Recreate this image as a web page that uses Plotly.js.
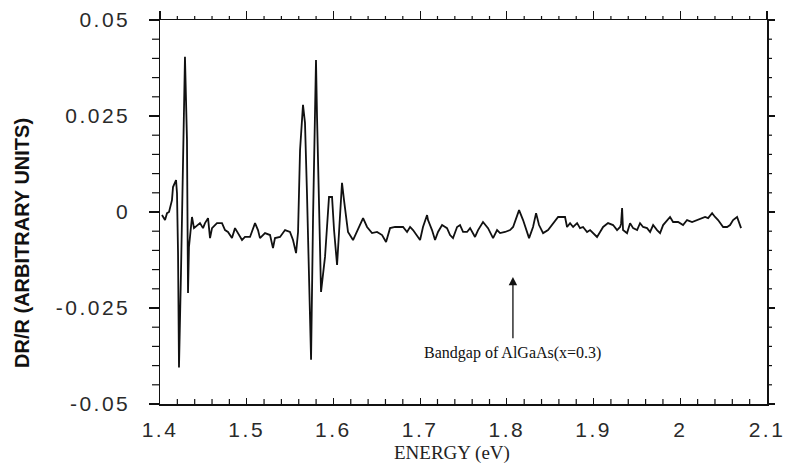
<!DOCTYPE html>
<html>
<head>
<meta charset="utf-8">
<script src="https://cdn.plot.ly/plotly-3.0.1.min.js"></script>
<style>
html,body{margin:0;padding:0;background:#fff;}
#chart{width:790px;height:468px;}
#chart .xtick text, #chart .ytick text{letter-spacing:2.5px;}
</style>
</head>
<body>
<div id="chart"></div>
<script>
// Photoreflectance spectrum
const energy = [
1.4023,1.4058,1.4081,1.4104,1.4138,1.4150,1.4185,1.4196,1.4208,1.4219,1.4242,1.4265,1.4288,1.4311,1.4323,1.4334,1.4358,1.4369,1.4392,1.4427,
1.4461,1.4496,1.4519,1.4554,1.4577,1.4600,1.4657,1.4715,1.4750,1.4784,1.4830,1.4865,1.4900,1.4946,1.4980,1.5038,1.5096,1.5130,1.5153,1.5211,
1.5269,1.5303,1.5326,1.5384,1.5442,1.5499,1.5534,1.5569,1.5592,1.5615,1.5649,1.5672,1.5695,1.5719,1.5742,1.5765,1.5788,1.5799,1.5811,1.5834,
1.5857,1.5903,1.5949,1.5984,1.6007,1.6042,1.6076,1.6099,1.6122,1.6168,1.6226,1.6307,1.6342,1.6388,1.6445,1.6503,1.6561,1.6607,1.6653,1.6711,
1.6768,1.6803,1.6849,1.6884,1.6918,1.6964,1.6999,1.7033,1.7080,1.7091,1.7137,1.7172,1.7206,1.7253,1.7310,1.7345,1.7379,1.7426,1.7460,1.7495,
1.7541,1.7576,1.7633,1.7668,1.7725,1.7783,1.7841,1.7887,1.7922,1.7979,1.8037,1.8072,1.8118,1.8141,1.8187,1.8233,1.8256,1.8302,1.8337,1.8371,
1.8418,1.8475,1.8533,1.8591,1.8671,1.8694,1.8729,1.8764,1.8810,1.8844,1.8879,1.8925,1.8960,1.8994,1.9040,1.9075,1.9110,1.9167,1.9225,1.9271,
1.9306,1.9317,1.9329,1.9340,1.9386,1.9421,1.9456,1.9502,1.9536,1.9571,1.9617,1.9652,1.9687,1.9732,1.9767,1.9802,1.9848,1.9882,1.9917,1.9975,
2.0032,2.0078,2.0136,2.0194,2.0228,2.0286,2.0321,2.0367,2.0401,2.0436,2.0494,2.0540,2.0574,2.0609,2.0655,2.0678,2.0701
];
const drr = [
-0.0008,-0.0021,-0.0003,0.0000,0.0031,0.0065,0.0083,0.0049,-0.0107,-0.0405,-0.0159,0.0188,0.0404,0.0188,-0.0211,-0.0091,-0.0021,-0.0013,-0.0042,-0.0034,
-0.0029,-0.0042,-0.0029,-0.0016,-0.0068,-0.0042,-0.0029,-0.0029,-0.0047,-0.0052,-0.0068,-0.0042,-0.0055,-0.0073,-0.0065,-0.0065,-0.0029,-0.0047,-0.0068,-0.0055,
-0.0060,-0.0094,-0.0068,-0.0065,-0.0047,-0.0052,-0.0073,-0.0107,-0.0052,0.0161,0.0279,0.0232,0.0049,-0.0203,-0.0385,-0.0013,0.0247,0.0396,0.0247,-0.0013,
-0.0208,-0.0117,0.0039,0.0039,-0.0047,-0.0138,-0.0013,0.0076,0.0031,-0.0052,-0.0073,-0.0034,-0.0016,-0.0039,-0.0055,-0.0052,-0.0060,-0.0078,-0.0042,-0.0039,
-0.0039,-0.0039,-0.0052,-0.0039,-0.0047,-0.0060,-0.0073,-0.0039,-0.0008,-0.0021,-0.0047,-0.0073,-0.0052,-0.0034,-0.0042,-0.0060,-0.0068,-0.0039,-0.0034,-0.0052,
-0.0052,-0.0042,-0.0065,-0.0047,-0.0026,-0.0042,-0.0068,-0.0047,-0.0055,-0.0052,-0.0047,-0.0039,-0.0008,0.0005,-0.0021,-0.0055,-0.0068,-0.0039,-0.0003,-0.0034,
-0.0055,-0.0047,-0.0029,-0.0013,-0.0013,-0.0039,-0.0029,-0.0039,-0.0029,-0.0042,-0.0039,-0.0052,-0.0047,-0.0055,-0.0065,-0.0052,-0.0039,-0.0029,-0.0034,-0.0047,
-0.0039,-0.0031,0.0010,-0.0047,-0.0055,-0.0029,-0.0042,-0.0047,-0.0029,-0.0039,-0.0042,-0.0052,-0.0034,-0.0047,-0.0055,-0.0034,-0.0021,-0.0013,-0.0026,-0.0026,
-0.0034,-0.0021,-0.0026,-0.0021,-0.0016,-0.0013,-0.0016,-0.0003,-0.0013,-0.0021,-0.0039,-0.0039,-0.0034,-0.0021,-0.0013,-0.0026,-0.0042
];
// tick label spellings of the reference (hyphen minus)
const yLabelAlias = {'\u22120.025': '-0.025', '\u22120.05': '-0.05'};
const arrowHead = {x: 1.807, y: -0.0169};
const arrowTail = {x: 1.807, y: -0.0333};
const noteText = 'Bandgap of AlGaAs(x=0.3)';
const xTitle = 'ENERGY (eV)';
const yTitle = 'DR/R (ARBITRARY UNITS)';

const sans = 'Liberation Sans, Arial, sans-serif';
const serif = 'Liberation Serif, Times New Roman, serif';
const ink = '#111';
const clear = 'rgba(0,0,0,0)';
const XR = [1.4, 2.1], YR = [-0.05, 0.05];

// minor tick positions (axis decoration): every 0.02 eV and every 0.005 in DR/R
const xMinor = [], yMinor = [];
for (let k = 1; k < 35; k++) if (k % 5) xMinor.push((140 + 2 * k) / 100);
for (let k = -9; k <= 9; k++) if (k % 5) yMinor.push(k * 5 / 1000);

const tickLine = {color: ink, width: 1.2};
const shapes = [];
xMinor.forEach(v => {
  // bottom: inside (pointing up)
  shapes.push({type: 'line', xref: 'x', yref: 'paper', ysizemode: 'pixel', yanchor: 0,
    x0: v, x1: v, y0: 0, y1: 5, line: tickLine});
  // top: outside (pointing up)
  shapes.push({type: 'line', xref: 'x', yref: 'paper', ysizemode: 'pixel', yanchor: 1,
    x0: v, x1: v, y0: 0, y1: 4, line: tickLine});
});
yMinor.forEach(v => {
  // left: outside
  shapes.push({type: 'line', xref: 'paper', yref: 'y', xsizemode: 'pixel', xanchor: 0,
    x0: -8, x1: 0, y0: v, y1: v, line: tickLine});
  // right: outside
  shapes.push({type: 'line', xref: 'paper', yref: 'y', xsizemode: 'pixel', xanchor: 1,
    x0: 0, x1: 5, y0: v, y1: v, line: tickLine});
});

const dummy = (xa, ya) => ({x: XR, y: [0, 0], xaxis: xa, yaxis: ya, type: 'scatter', mode: 'lines',
  line: {color: clear}, hoverinfo: 'skip', showlegend: false});

const traces = [
  {x: energy, y: drr, type: 'scatter', mode: 'lines',
   line: {color: ink, width: 1.8}, hoverinfo: 'skip', showlegend: false},
  dummy('x2', 'y'), dummy('x', 'y2')
];

const layout = {
  width: 790, height: 468,
  margin: {l: 160, r: 23, t: 20, b: 64},
  paper_bgcolor: '#fff', plot_bgcolor: '#fff',
  showlegend: false,
  xaxis: {
    range: XR, tickmode: 'linear', tick0: 1.4, dtick: 0.1,
    showgrid: false, zeroline: false, showline: true, linecolor: ink, linewidth: 1.5,
    ticks: 'inside', ticklen: 6, tickwidth: 1.2, tickcolor: ink,
    tickfont: {family: sans, size: 21, color: '#2a2a2a'},
    ticklabelstandoff: 6
  },
  xaxis2: {overlaying: 'x', side: 'top', anchor: 'y', range: XR, tickmode: 'linear', tick0: 1.4, dtick: 0.1,
    showticklabels: false, showgrid: false, zeroline: false,
    ticks: 'outside', ticklen: 8, tickwidth: 1.2, tickcolor: ink, showline: true, linecolor: ink, linewidth: 1.5},
  yaxis: {
    range: YR, tickmode: 'linear', tick0: 0, dtick: 0.025, labelalias: yLabelAlias,
    showgrid: false, zeroline: false, showline: true, linecolor: ink, linewidth: 1.5,
    ticks: 'outside', ticklen: 10, tickwidth: 1.2, tickcolor: ink,
    tickfont: {family: sans, size: 21, color: '#2a2a2a'},
    ticklabelstandoff: 14
  },
  yaxis2: {overlaying: 'y', side: 'right', anchor: 'x', range: YR, tickmode: 'linear', tick0: 0, dtick: 0.025,
    showticklabels: false, showgrid: false, zeroline: false,
    ticks: 'outside', ticklen: 6, tickwidth: 1.2, tickcolor: ink, showline: true, linecolor: ink, linewidth: 1.5},
  shapes: shapes,
  annotations: [
    {xref: 'paper', yref: 'paper', x: -0.227, y: 0.42, xanchor: 'center', yanchor: 'middle',
     text: '<b>' + yTitle + '</b>', textangle: -90, showarrow: false,
     font: {family: sans, size: 20, color: ink}},
    {xref: 'paper', yref: 'paper', x: 0.481, y: -0.128, xanchor: 'center', yanchor: 'middle',
     text: xTitle, showarrow: false, font: {family: serif, size: 19, color: '#222'}},
    {x: arrowHead.x, y: arrowHead.y, ax: arrowTail.x, ay: arrowTail.y, axref: 'x', ayref: 'y',
     xref: 'x', yref: 'y', text: '', showarrow: true, arrowhead: 2, arrowsize: 1.3, arrowwidth: 1.3,
     arrowcolor: ink, standoff: 0, startstandoff: 0},
    {x: arrowHead.x, y: arrowTail.y, xref: 'x', yref: 'y', xanchor: 'center', yanchor: 'top',
     yshift: -2, text: noteText, showarrow: false, font: {family: serif, size: 16, color: ink}}
  ]
};

Plotly.newPlot('chart', traces, layout, {displayModeBar: false, staticPlot: true});
</script>
</body>
</html>
